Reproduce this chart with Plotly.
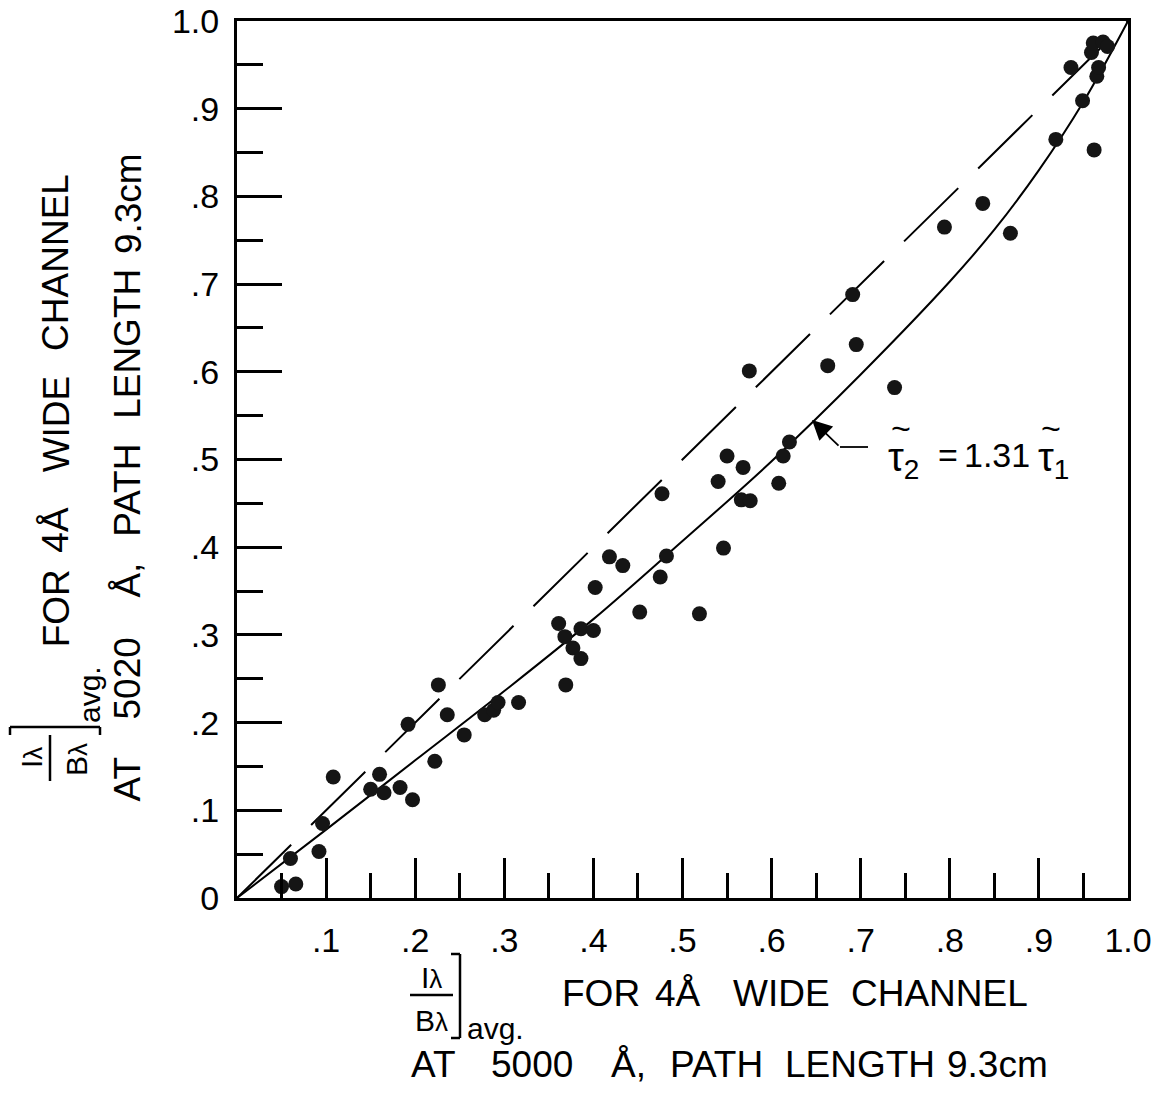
import plotly.graph_objects as go

# ---------------- data ----------------
x_obs = [0.050, 0.066, 0.060, 0.092, 0.096, 0.108, 0.150, 0.160, 0.165, 0.183,
         0.197, 0.192, 0.222, 0.226, 0.236, 0.255, 0.278, 0.288, 0.293, 0.316,
         0.369, 0.361, 0.368, 0.377, 0.386, 0.386, 0.400, 0.402, 0.418, 0.433,
         0.452, 0.475, 0.477, 0.482, 0.519, 0.540, 0.546, 0.550, 0.566, 0.576,
         0.568, 0.575, 0.608, 0.613, 0.620, 0.663, 0.691, 0.695, 0.738, 0.794,
         0.837, 0.868, 0.919, 0.936, 0.949, 0.962, 0.965, 0.967, 0.959, 0.961,
         0.972, 0.977]
y_obs = [0.013, 0.016, 0.045, 0.053, 0.085, 0.138, 0.124, 0.141, 0.120, 0.126,
         0.112, 0.198, 0.156, 0.243, 0.209, 0.186, 0.209, 0.214, 0.223, 0.223,
         0.243, 0.313, 0.298, 0.285, 0.273, 0.307, 0.305, 0.354, 0.389, 0.379,
         0.326, 0.366, 0.461, 0.390, 0.324, 0.475, 0.399, 0.504, 0.454, 0.453,
         0.491, 0.601, 0.473, 0.504, 0.520, 0.607, 0.688, 0.631, 0.582, 0.765,
         0.792, 0.758, 0.865, 0.947, 0.909, 0.853, 0.937, 0.947, 0.964, 0.975,
         0.976, 0.971]

# solid curve  tau2 = 1.31 tau1
curve_x = [0.0, 0.1, 0.2, 0.3, 0.4, 0.5, 0.6, 0.7, 0.8, 0.85, 0.9, 0.95, 1.0]
curve_y = [0.0, 0.078, 0.157, 0.236, 0.318, 0.407, 0.498, 0.597, 0.703, 0.762,
           0.830, 0.908, 1.0]

# dashed reference line
diag_x = [0.0, 1.0]
diag_y = [0.0, 1.0]

x_tick_vals = [0.1, 0.2, 0.3, 0.4, 0.5, 0.6, 0.7, 0.8, 0.9, 1.0]
x_tick_text = [".1", ".2", ".3", ".4", ".5", ".6", ".7", ".8", ".9", "1.0"]
y_tick_vals = [0.0, 0.1, 0.2, 0.3, 0.4, 0.5, 0.6, 0.7, 0.8, 0.9, 1.0]
y_tick_text = ["0", ".1", ".2", ".3", ".4", ".5", ".6", ".7", ".8", ".9", "1.0"]
minor_vals = [0.05, 0.15, 0.25, 0.35, 0.45, 0.55, 0.65, 0.75, 0.85, 0.95]

title_line1 = ["FOR", "4Å", "WIDE", "CHANNEL"]
title_line1_centres = [601, 678, 781, 939]
x_title_line2 = ["AT", "5000", "Å,", "PATH", "LENGTH", "9.3cm"]
y_title_line2 = ["AT", "5020", "Å,", "PATH", "LENGTH", "9.3cm"]
title_line2_centres = [433, 532, 628, 716, 860, 997]

# ---------------- layout geometry ----------------
W, H = 1153, 1093
L, R, T, B = 237, 1128, 21, 898
FONT = "Liberation Sans"
TSIZE = 37


def px(x):
    return (x - L) / (R - L)


def py(y):
    return (B - y) / (B - T)


fig = go.Figure()
fig.add_trace(go.Scatter(x=diag_x, y=diag_y, mode="lines",
                         line=dict(color="black", width=2, dash="76px,28px"),
                         hoverinfo="skip", showlegend=False))
fig.add_trace(go.Scatter(x=curve_x, y=curve_y, mode="lines",
                         line=dict(color="black", width=2, shape="spline", smoothing=1.0),
                         hoverinfo="skip", showlegend=False))
fig.add_trace(go.Scatter(x=x_obs, y=y_obs, mode="markers",
                         marker=dict(size=15, color="#151515"),
                         showlegend=False))

axis_common = dict(range=[0, 1], showline=True, linewidth=3, linecolor="black",
                   mirror=True, ticks="inside", tickwidth=2.5, tickcolor="black",
                   showgrid=False, zeroline=False, automargin=False,
                   tickfont=dict(family=FONT, size=34, color="black"))

fig.update_xaxes(**axis_common, tickvals=x_tick_vals, ticktext=x_tick_text,
                 ticklen=40, ticklabelstandoff=10,
                 minor=dict(tickvals=minor_vals, ticks="inside", ticklen=25,
                            tickwidth=2.5, tickcolor="black", showgrid=False))
fig.update_yaxes(**axis_common, tickvals=y_tick_vals, ticktext=y_tick_text,
                 ticklen=45, ticklabelstandoff=8,
                 minor=dict(tickvals=minor_vals, ticks="inside", ticklen=26,
                            tickwidth=2.5, tickcolor="black", showgrid=False))

ann = []
shapes = []


def text(xp, yp, s, size=34, angle=0, xanchor="center", yanchor="middle"):
    ann.append(dict(x=px(xp), y=py(yp), xref="paper", yref="paper", text=s,
                    showarrow=False, textangle=angle, xanchor=xanchor, yanchor=yanchor,
                    font=dict(family=FONT, size=size, color="black")))


def seg(x0, y0, x1, y1, w=2.5):
    shapes.append(dict(type="line", xref="paper", yref="paper",
                       x0=px(x0), y0=py(y0), x1=px(x1), y1=py(y1),
                       line=dict(color="black", width=w)))


LAM = "<span style='font-size:26px'>λ</span>"

# ---- x-axis title ----
text(431, 977, "I" + LAM, size=30)
seg(410, 995, 453, 995)
text(431, 1020, "B" + LAM, size=30)
seg(451, 954, 460, 954)
seg(460, 954, 460, 1038)
seg(451, 1038, 460, 1038)
text(465, 1028, "avg.", size=30, xanchor="left")
for w, c in zip(title_line1, title_line1_centres):
    text(c, 993, w, size=TSIZE)
for w, c in zip(x_title_line2, title_line2_centres):
    text(c, 1064, w, size=TSIZE)

# ---- y-axis title (rotated) ----
text(31, 758, "I" + LAM, size=30, angle=-90)
seg(50, 735, 50, 781)
text(76, 760, "B" + LAM, size=30, angle=-90)
seg(10, 735, 10, 727)
seg(10, 727, 100, 727)
seg(100, 727, 100, 735)
text(89, 695, "avg.", size=30, angle=-90)
for w, c in zip(title_line1, title_line1_centres):
    text(56, 640 - (c - 570) * 465 / 455, w, size=TSIZE, angle=-90)
for w, c in zip(y_title_line2, title_line2_centres):
    text(128, 803 - (c - 410) * 653 / 640, w, size=TSIZE, angle=-90)

# ---- curve label with arrow ----
tip_x, tip_y = 812, 420
tail_x, tail_y = 840, 447
ann.append(dict(x=px(tip_x), y=py(tip_y), xref="paper", yref="paper", text="",
                showarrow=True, arrowhead=2, arrowsize=2.2, arrowwidth=1.8,
                arrowcolor="black", ax=tail_x - tip_x, ay=tail_y - tip_y))
seg(tail_x, tail_y, 868, tail_y, w=1.8)
text(886, 460, "τ<sub>2</sub>", size=40, xanchor="left")
text(901, 428, "~", size=34)
text(948, 455, "=", size=34)
text(962, 455, "1.31", size=34, xanchor="left")
text(1036, 460, "τ<sub>1</sub>", size=40, xanchor="left")
text(1051, 428, "~", size=34)

fig.update_layout(width=W, height=H, margin=dict(l=L, r=W - R, t=T, b=H - B),
                  paper_bgcolor="white", plot_bgcolor="white",
                  annotations=ann, shapes=shapes, showlegend=False)

fig.write_html("out.html")
